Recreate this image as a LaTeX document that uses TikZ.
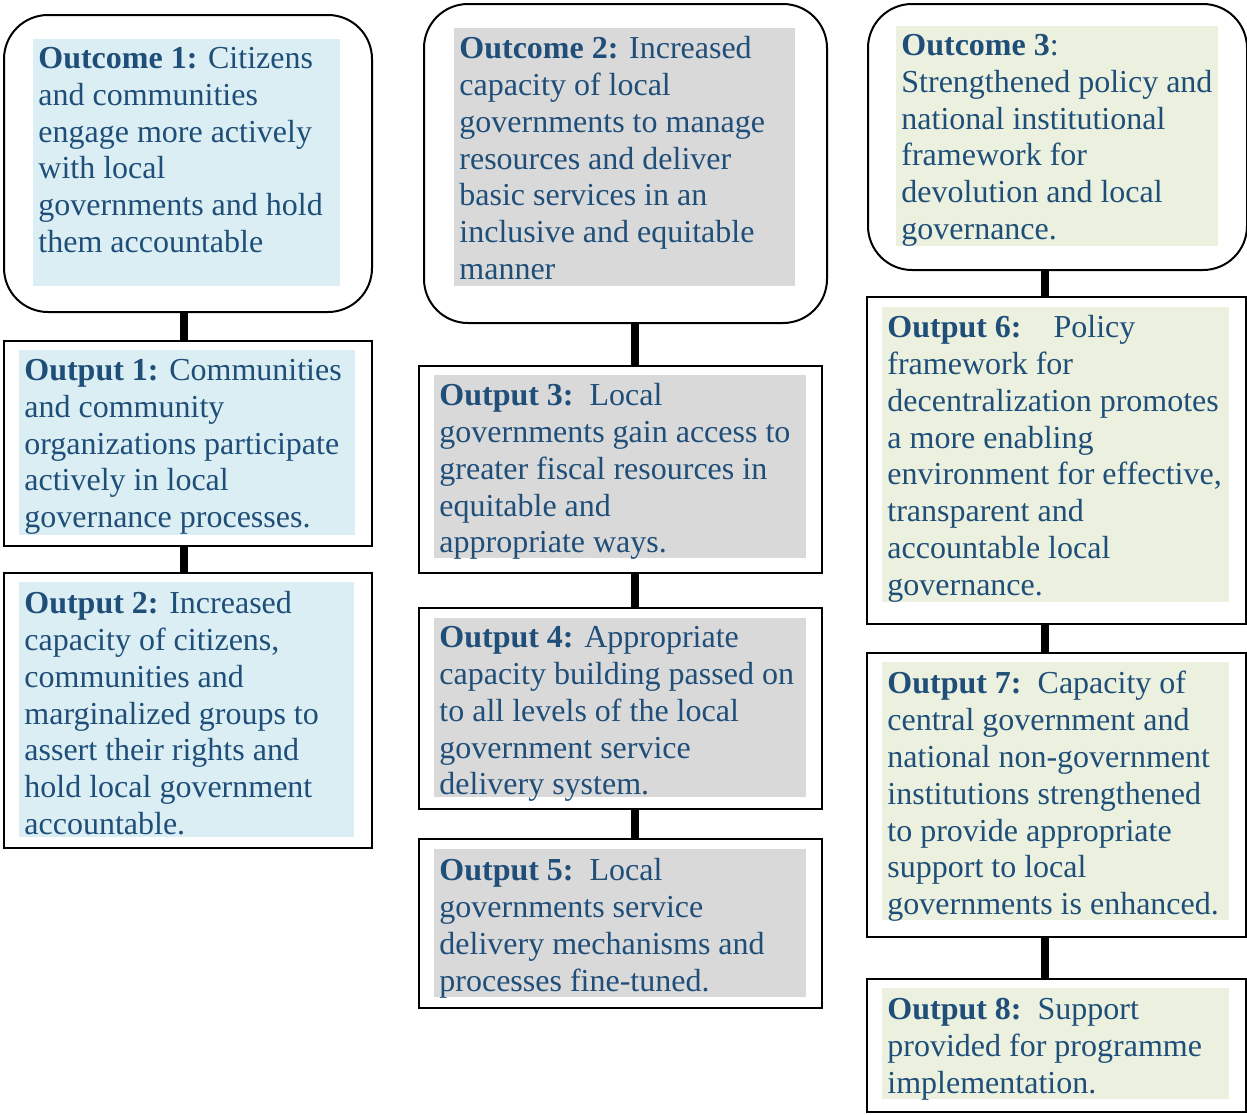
\documentclass[tikz,border=0pt]{standalone}
\usepackage{fontspec}
\setmainfont{Liberation Serif}
\definecolor{navytext}{RGB}{31,78,121}
\definecolor{paleblue}{RGB}{218,238,243}
\definecolor{palegrey}{RGB}{217,217,217}
\definecolor{palegreen}{RGB}{235,241,222}
\tikzset{
  outcomebox/.style={draw, line width=1pt, rounded corners=22pt, anchor=north west, inner sep=0pt},
  outputbox/.style={draw, line width=1pt, anchor=north west, inner sep=0pt},
  shadebox/.style={anchor=north west, inner sep=0pt},
  boxtext/.style={anchor=north west, inner sep=0pt, align=left, text=navytext,
    font=\fontsize{16}{18.4}\selectfont},
  link/.style={line width=4pt}
}

\begin{document}
\begin{tikzpicture}[x=0.5pt,y=0.5pt,yscale=-1,xscale=1]
  \useasboundingbox (0,0) rectangle (1247,1114);

  %Shape: Rounded Rectangle [outcomes]
  \node [outcomebox, minimum width=184pt, minimum height=148.5pt] (oc1) at (3,14) {};
  \node [outcomebox, minimum width=201.5pt, minimum height=159.5pt] (oc2) at (423,3) {};
  \node [outcomebox, minimum width=189.5pt, minimum height=133pt] (oc3) at (867,3) {};
  %Shape: Rectangle [outputs]
  \node [outputbox, minimum width=184pt, minimum height=102.5pt] (op1) at (3,340) {};
  \node [outputbox, minimum width=184pt, minimum height=137.5pt] (op2) at (3,572) {};
  \node [outputbox, minimum width=201.5pt, minimum height=103.5pt] (op3) at (418,365) {};
  \node [outputbox, minimum width=201.5pt, minimum height=100.5pt] (op4) at (418,607) {};
  \node [outputbox, minimum width=201.5pt, minimum height=84.5pt] (op5) at (418,838) {};
  \node [outputbox, minimum width=189.5pt, minimum height=163.5pt] (op6) at (866,296) {};
  \node [outputbox, minimum width=189.5pt, minimum height=142pt] (op7) at (866,652) {};
  \node [outputbox, minimum width=189.5pt, minimum height=66.5pt] (op8) at (866,978) {};

  %Shape: Shading behind the texts
  \node [shadebox, fill=paleblue, minimum width=153.5pt, minimum height=123.5pt] (oc1bg) at (33,39) {};
  \node [shadebox, fill=palegrey, minimum width=170.5pt, minimum height=129pt] (oc2bg) at (454,28) {};
  \node [shadebox, fill=palegreen, minimum width=161pt, minimum height=110pt] (oc3bg) at (896,26) {};
  \node [shadebox, fill=paleblue, minimum width=168pt, minimum height=92.5pt] (op1bg) at (19,350) {};
  \node [shadebox, fill=paleblue, minimum width=167.5pt, minimum height=127.5pt] (op2bg) at (19,582) {};
  \node [shadebox, fill=palegrey, minimum width=186pt, minimum height=91.5pt] (op3bg) at (434,375) {};
  \node [shadebox, fill=palegrey, minimum width=186pt, minimum height=89.5pt] (op4bg) at (434,618) {};
  \node [shadebox, fill=palegrey, minimum width=186pt, minimum height=74pt] (op5bg) at (434,849) {};
  \node [shadebox, fill=palegreen, minimum width=173.5pt, minimum height=147.5pt] (op6bg) at (882,307) {};
  \node [shadebox, fill=palegreen, minimum width=173.5pt, minimum height=129pt] (op7bg) at (882,662) {};
  \node [shadebox, fill=palegreen, minimum width=173.5pt, minimum height=55.5pt] (op8bg) at (882,988) {};

  %Connectors
  \draw [link] ([xshift=-2pt]oc1.south) -- ([xshift=-2pt]op1.north);
  \draw [link] ([xshift=-2pt]op1.south) -- ([xshift=-2pt]op2.north);
  \draw [link] ([xshift=7pt]op3.north |- oc2.south) -- ([xshift=7pt]op3.north);
  \draw [link] ([xshift=7pt]op3.south) -- ([xshift=7pt]op4.north);
  \draw [link] ([xshift=7pt]op4.south) -- ([xshift=7pt]op5.north);
  \draw [link] ([xshift=-6pt]op6.north |- oc3.south) -- ([xshift=-6pt]op6.north);
  \draw [link] ([xshift=-6pt]op6.south) -- ([xshift=-6pt]op7.north);
  \draw [link] ([xshift=-6pt]op7.south) -- ([xshift=-6pt]op8.north);

  % Text Node
  \node [boxtext] (oc1txt) at (38,47) {\textbf{Outcome 1:} Citizens\\and communities\\engage more actively\\with local\\governments and hold\\them accountable};
  % Text Node
  \node [boxtext] (oc2txt) at (459,36) {\textbf{Outcome 2:} Increased\\capacity of local\\governments to manage\\resources and deliver\\basic services in an\\inclusive and equitable\\manner};
  % Text Node
  \node [boxtext] (oc3txt) at (901,34) {\textbf{Outcome 3}:\\Strengthened policy and\\national institutional\\framework for\\devolution and local\\governance.};
  % Text Node
  \node [boxtext] (op1txt) at (24,359) {\textbf{Output 1:} Communities\\and community\\organizations participate\\actively in local\\governance processes.};
  % Text Node
  \node [boxtext] (op2txt) at (24,591) {\textbf{Output 2:} Increased\\capacity of citizens,\\communities and\\marginalized groups to\\assert their rights and\\hold local government\\accountable.};
  % Text Node
  \node [boxtext] (op3txt) at (439,383) {\textbf{Output 3:}\enspace Local\\governments gain access to\\greater fiscal resources in\\equitable and\\appropriate ways.};
  % Text Node
  \node [boxtext] (op4txt) at (439,626) {\textbf{Output 4:} Appropriate\\capacity building passed on\\to all levels of the local\\government service\\delivery system.};
  % Text Node
  \node [boxtext] (op5txt) at (439,858) {\textbf{Output 5:}\enspace Local\\governments service\\delivery mechanisms and\\processes fine-tuned.};
  % Text Node
  \node [boxtext] (op6txt) at (887,315) {\textbf{Output 6:}\quad Policy\\framework for\\decentralization promotes\\a more enabling\\environment for effective,\\transparent and\\accountable local\\governance.};
  % Text Node
  \node [boxtext] (op7txt) at (887,671) {\textbf{Output 7:}\enspace Capacity of\\central government and\\national non-government\\institutions strengthened\\to provide appropriate\\support to local\\governments is enhanced.};
  % Text Node
  \node [boxtext] (op8txt) at (887,998) {\textbf{Output 8:}\enspace Support\\provided for programme\\implementation.};
\end{tikzpicture}
\end{document}
